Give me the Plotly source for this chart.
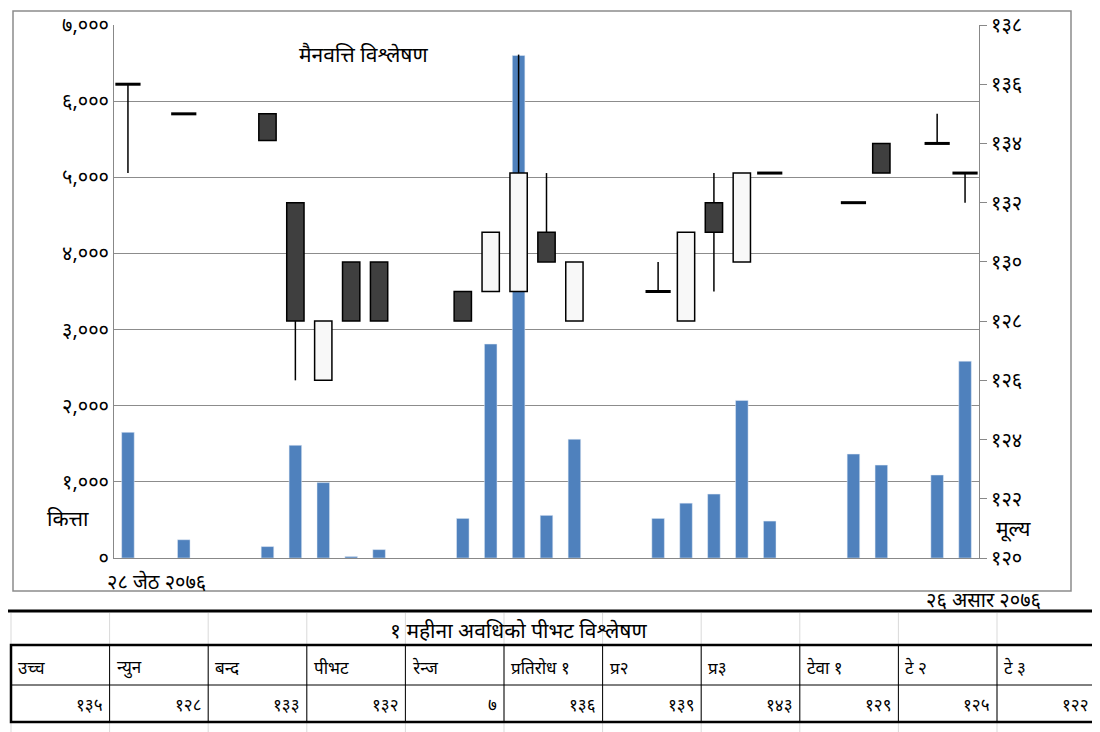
import plotly.graph_objects as go

# दिन (slot) अनुसार डाटा
days = [0, 2, 5, 6, 7, 8, 9, 12, 13, 14, 15, 16, 19, 20, 21, 22, 23, 26, 27, 29, 30]
opens = [136, 135, 135, 132, 126, 130, 130, 129, 129, 129, 131, 128, 129, 128, 132, 130, 133, 132, 134, 134, 133]
highs = [136, 135, 135, 132, 128, 130, 130, 129, 131, 137, 133, 130, 130, 131, 133, 133, 133, 132, 134, 135, 133]
lows = [133, 135, 134.1, 126, 126, 128, 128, 128, 129, 129, 130, 128, 129, 128, 129, 130, 133, 132, 133, 134, 132]
closes = [136, 135, 134.1, 128, 128, 128, 128, 128, 131, 133, 130, 130, 129, 131, 131, 133, 133, 132, 133, 134, 133]
volumes = [1650, 240, 150, 1480, 990, 20, 110, 520, 2810, 6600, 560, 1560, 520, 720, 840, 2070, 485, 1365, 1220, 1090, 2585]

table_head = ["उच्च", "न्युन", "बन्द", "पीभट", "रेन्ज", "प्रतिरोध १", "प्र२", "प्र३", "टेवा १", "टे २", "टे ३"]
table_vals = ["१३५", "१२८", "१३३", "१३२", "७", "१३६", "१३९", "१४३", "१२९", "१२५", "१२२"]

DIG = "०१२३४५६७८९"


def dev(s):
    return "".join(DIG[int(c)] if c.isdigit() else c for c in str(s))


FONT = "Noto Sans, sans-serif"
H = 732
PT, PB = 17, 550  # plot top/bottom in px


def py(Y):
    # pixel y -> paper y
    return (PB - Y) / (PB - PT)


def px_(X):
    return (X - 106) / (971 - 106)


fig = go.Figure()

fig.add_trace(go.Bar(x=days, y=volumes, width=0.45, marker_color="#4F81BD",
                     yaxis="y", showlegend=False))

# wicks, only the parts outside the body
wx, wy = [], []
for d, o, h, l, c in zip(days, opens, highs, lows, closes):
    top, bot = max(o, c), min(o, c)
    if h > top:
        wx += [d, d, None]
        wy += [top, h, None]
    if l < bot:
        wx += [d, d, None]
        wy += [l, bot, None]
fig.add_trace(go.Scatter(x=wx, y=wy, mode="lines", line=dict(color="black", width=1.5),
                         yaxis="y2", showlegend=False))

# bodies
bx, bb, bh, bc = [], [], [], []
dx, dy = [], []
for d, o, c in zip(days, opens, closes):
    if o == c:
        dx.append(d)
        dy.append(o)
    else:
        bx.append(d)
        bb.append(min(o, c))
        bh.append(abs(c - o))
        bc.append("#3F3F3F" if c < o else "#F8F8F8")
fig.add_trace(go.Bar(x=bx, y=bh, base=bb, width=0.62, marker=dict(color=bc, line=dict(color="black", width=1.5)),
                     yaxis="y2", showlegend=False))
fig.add_trace(go.Scatter(x=dx, y=dy, mode="markers", marker=dict(symbol="line-ew", size=18,
                         line=dict(color="black", width=3)), yaxis="y2", showlegend=False))

lt = list(range(0, 7001, 1000))
rt = list(range(120, 139, 2))
fig.update_layout(
    width=1100, height=H, margin=dict(l=106, r=129, t=PT, b=H - PB, autoexpand=False),
    paper_bgcolor="white", plot_bgcolor="white", barmode="overlay",
    font=dict(family=FONT, color="black"),
    xaxis=dict(range=[-0.5, 30.5], showticklabels=False, showgrid=False, zeroline=False,
               showline=True, linecolor="#888888", mirror=False, automargin=False),
    yaxis=dict(range=[0, 7000], tickvals=lt, ticktext=[dev(f"{v:,}") for v in lt],
               showgrid=True, gridcolor="#8C8C8C", gridwidth=1, zeroline=False, automargin=False,
               showline=True, linecolor="#888888", tickfont=dict(size=20), ticks=""),
    yaxis2=dict(range=[120, 138], overlaying="y", side="right", tickvals=rt,
                ticktext=[dev(v) for v in rt], showgrid=False, zeroline=False, automargin=False,
                showline=True, linecolor="#888888", ticks="outside", ticklen=7,
                tickcolor="#888888", tickfont=dict(size=20)),
)

shapes = []
# chart frame
shapes.append(dict(type="rect", xref="paper", yref="paper", x0=px_(5), x1=px_(1063), y0=py(583), y1=py(3),
                   line=dict(color="#8C8C8C", width=1.5)))
# excel faint grid
for k in range(12):
    X = 3 + k * 98.6
    shapes.append(dict(type="line", xref="paper", yref="paper", x0=px_(X), x1=px_(X), y0=py(605), y1=py(732),
                       line=dict(color="#D9D9D9", width=1)))
# thick separator
shapes.append(dict(type="line", xref="paper", yref="paper", x0=px_(0), x1=px_(1100), y0=py(603), y1=py(603),
                   line=dict(color="black", width=3)))
# table
shapes.append(dict(type="rect", xref="paper", yref="paper", x0=px_(3), x1=px_(1088), y0=py(714), y1=py(637),
                   line=dict(color="black", width=2.5)))
shapes.append(dict(type="line", xref="paper", yref="paper", x0=px_(3), x1=px_(1088), y0=py(677), y1=py(677),
                   line=dict(color="black", width=1)))
for k in range(1, 11):
    X = 3 + k * 98.6
    shapes.append(dict(type="line", xref="paper", yref="paper", x0=px_(X), x1=px_(X), y0=py(714), y1=py(637),
                       line=dict(color="black", width=1)))

ann = [
    dict(text="मैनवत्ति विश्लेषण", x=px_(355), y=py(46), size=21, xa="center"),
    dict(text="कित्ता", x=px_(60), y=py(510), size=21, xa="center"),
    dict(text="मूल्य", x=px_(1005), y=py(520), size=21, xa="center"),
    dict(text="२८ जेठ २०७६", x=px_(148), y=py(573), size=20, xa="center"),
    dict(text="२६ असार २०७६", x=px_(975), y=py(591), size=20, xa="center"),
    dict(text="१ महीना अवधिको पीभट विश्लेषण", x=px_(510), y=py(622), size=21, xa="center"),
]
for k in range(11):
    X = 3 + k * 98.6
    ann.append(dict(text=table_head[k], x=px_(X + 5), y=py(659), size=17, xa="left"))
    ann.append(dict(text=table_vals[k], x=px_(X + 94), y=py(696), size=17, xa="right"))

fig.update_layout(shapes=shapes, annotations=[
    dict(text=a["text"], x=a["x"], y=a["y"], xref="paper", yref="paper", showarrow=False,
         xanchor=a["xa"], yanchor="middle", font=dict(size=a["size"], family=FONT, color="black"))
    for a in ann])

fig.write_html("out.html")
